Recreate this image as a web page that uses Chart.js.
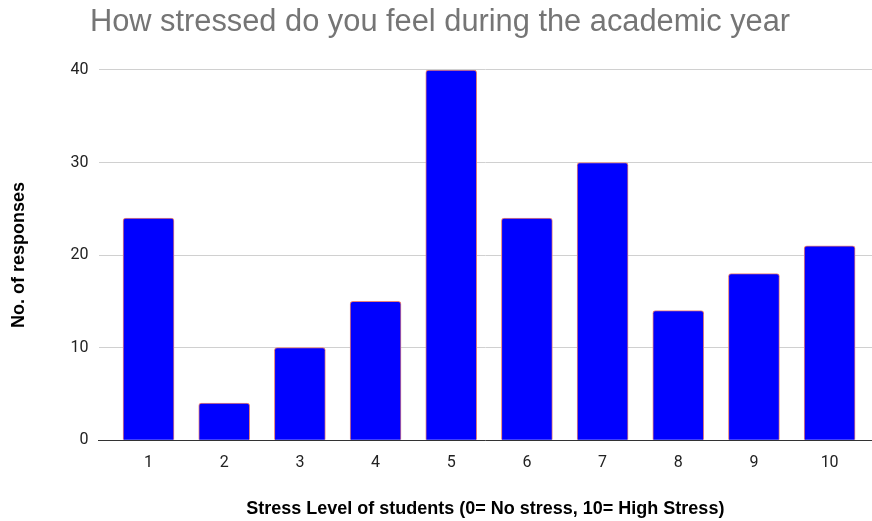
<!DOCTYPE html>
<html>
<head>
<meta charset="utf-8">
<script src="https://cdn.jsdelivr.net/npm/chart.js@4"></script>
<style>
  html, body { margin: 0; padding: 0; background: #fff; }
  #wrap { width: 872px; height: 521px; }
</style>
</head>
<body>
<div id="wrap"><canvas id="chart1"></canvas></div>
<script>
// CHART DATA
// -----------------------------
let levels = [1, 2, 3, 4, 5, 6, 7, 8, 9, 10];
let responses = [24, 4, 10, 15, 40, 24, 30, 14, 18, 21];
let yTicks = [0, 10, 20, 30, 40];

// CHART CONFIG
// -----------------------------
let points = levels.map((lv, i) => ({ x: lv, y: responses[i] }));

let chart1Data = {
  type: 'bar',
  data: {
    datasets: [{
      data: points,
      backgroundColor: '#0000ff',
      borderColor: '#e8837a',
      borderWidth: 1,
      borderRadius: 3,
      borderSkipped: 'bottom',
      barThickness: 51
    }]
  },
  options: {
    responsive: false,
    animation: false,
    layout: { padding: { left: 8, right: 0, top: 0, bottom: 0 } },
    plugins: {
      legend: { display: false },
      tooltip: { enabled: false },
      title: {
        display: true,
        text: 'How stressed do you feel during the academic year',
        color: '#757575',
        font: { family: 'Liberation Sans', size: 30.8, weight: 'normal' },
        padding: { top: 4, bottom: 29 }
      }
    },
    scales: {
      x: {
        type: 'linear',
        offset: false,
        min: 0.34,
        max: 10.56,
        afterBuildTicks: (scale) => {
          scale.ticks = levels.map(v => ({ value: v }));
        },
        grid: { display: false, offset: false },
        border: { display: true, color: '#333', width: 1 },
        ticks: {
          color: '#222',
          padding: 5,
          font: { family: 'Roboto', size: 16 },
          callback: (v) => String(v)
        },
        title: {
          display: true,
          text: 'Stress Level of students (0= No stress, 10= High Stress)',
          color: '#000',
          font: { family: 'Liberation Sans', size: 18, weight: 'bold' },
          padding: { top: 21, bottom: 1 }
        }
      },
      y: {
        min: 0,
        max: 40,
        afterBuildTicks: (scale) => {
          scale.ticks = yTicks.map(v => ({ value: v }));
        },
        grid: { color: '#d0d0d0', drawTicks: false, lineWidth: 1 },
        border: { display: false },
        ticks: {
          color: '#222',
          padding: 10,
          font: { family: 'Roboto', size: 16 }
        },
        title: {
          display: true,
          text: 'No. of responses',
          color: '#000',
          font: { family: 'Liberation Sans', size: 18, weight: 'bold' },
          padding: { top: 0, bottom: 31 }
        }
      }
    }
  }
};

// RENDER CHART
// -----------------------------
let canvas = document.getElementById('chart1');
canvas.width = 872;
canvas.height = 521;
new Chart(canvas, chart1Data);
</script>
</body>
</html>
